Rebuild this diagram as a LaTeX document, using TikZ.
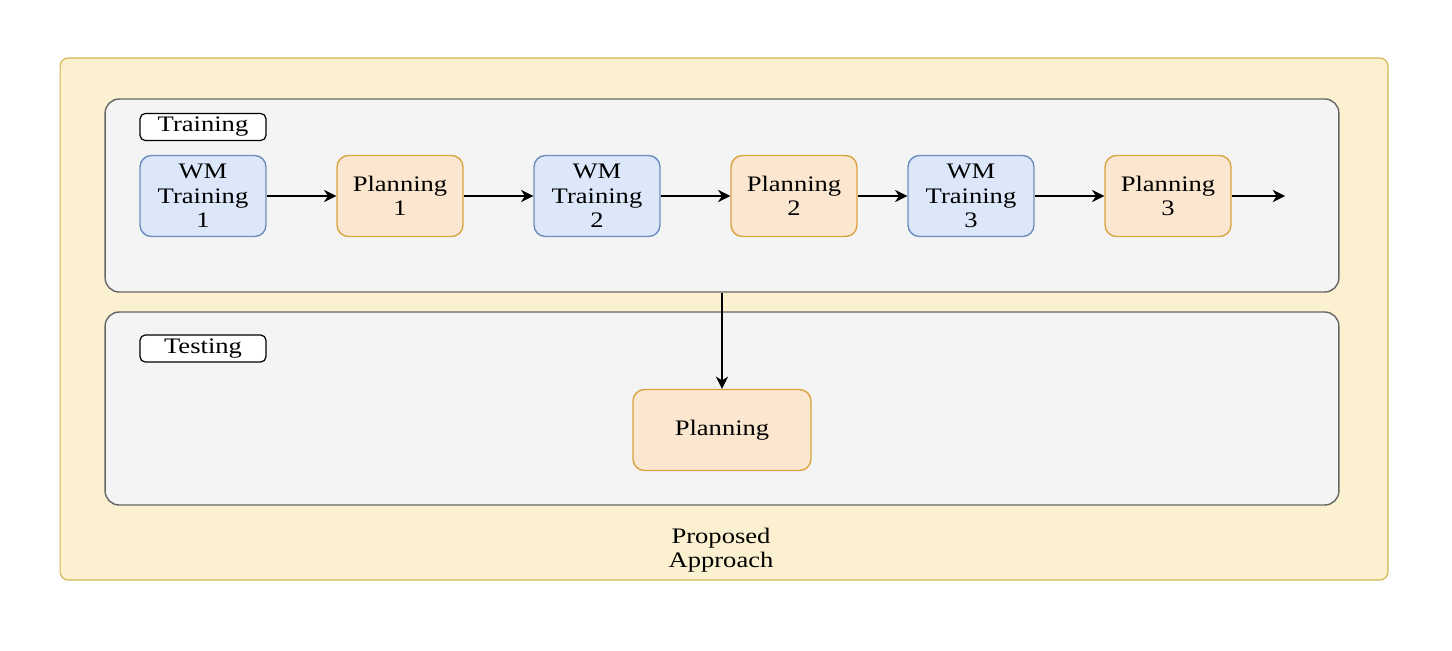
\documentclass[tikz,border=0pt]{standalone}
\usepackage{fontspec}
\setmainfont[FakeStretch=1.2]{Liberation Serif}
\usepackage{tikz}
\usetikzlibrary{arrows.meta,positioning}

\definecolor{apfill}{HTML}{FBF0CF}
\definecolor{apline}{HTML}{D6B656}
\definecolor{grpfill}{HTML}{F4F4F4}
\definecolor{grpline}{HTML}{666666}
\definecolor{wmfill}{HTML}{DCE7F9}
\definecolor{wmline}{HTML}{6C8EBF}
\definecolor{plfill}{HTML}{FBE6CF}
\definecolor{plline}{HTML}{D9A441}

\begin{document}
\begin{tikzpicture}[x=0.02cm, y=-0.02cm,
    txt/.style={font=\fontsize{12.6}{14}\selectfont, align=center},
    outer/.style={draw=apline, fill=apfill, line width=0.7pt, rounded corners=4.5pt, minimum width=26.56cm, minimum height=10.44cm},
    grp/.style={draw=grpline, fill=grpfill, line width=0.8pt, rounded corners=8pt, minimum width=24.68cm, minimum height=3.86cm},
    tag/.style={txt, draw=black, fill=white, line width=0.7pt, rounded corners=3pt, minimum width=2.52cm, minimum height=0.54cm, inner sep=0pt},
    wm/.style={txt, draw=wmline, fill=wmfill, line width=0.8pt, rounded corners=6.5pt, minimum width=2.52cm, minimum height=1.62cm, inner sep=1pt},
    pl/.style={txt, draw=plline, fill=plfill, line width=0.8pt, rounded corners=6.5pt, minimum width=2.52cm, minimum height=1.62cm, inner sep=1pt},
    arr/.style={-{Stealth[length=7pt, width=7pt, inset=2.2pt]}, line width=0.8pt}
]
\useasboundingbox (0,0) rectangle (1452,650);

% containers
\node[outer] (appr) at (724,319) {};
\node[grp] (train) at (722,195.5) {};
\node[grp] (test) at (722,408.5) {};
\node[tag] (traintag) at (203,127) {Training};
\node[tag] (testtag) at (203,348.5) {Testing};
\node[txt] (apprlbl) at (721,550) {Proposed\\Approach};

% training steps
\node[wm] (wm1) at (203,196) {WM\\Training\\1};
\node[pl] (pl1) at (400,196) {Planning\\1};
\node[wm] (wm2) at (597,196) {WM\\Training\\2};
\node[pl] (pl2) at (794,196) {Planning\\2};
\node[wm] (wm3) at (971,196) {WM\\Training\\3};
\node[pl] (pl3) at (1168,196) {Planning\\3};
\coordinate (next) at (1285,196);

% testing step
\node[pl, minimum width=3.56cm] (plt) at (722,430) {Planning};

\draw[arr] (wm1) -- (pl1);
\draw[arr] (pl1) -- (wm2);
\draw[arr] (wm2) -- (pl2);
\draw[arr] (pl2) -- (wm3);
\draw[arr] (wm3) -- (pl3);
\draw[arr] (pl3) -- (next);
\draw[arr] (train.south) -- (plt.north);
\end{tikzpicture}
\end{document}
